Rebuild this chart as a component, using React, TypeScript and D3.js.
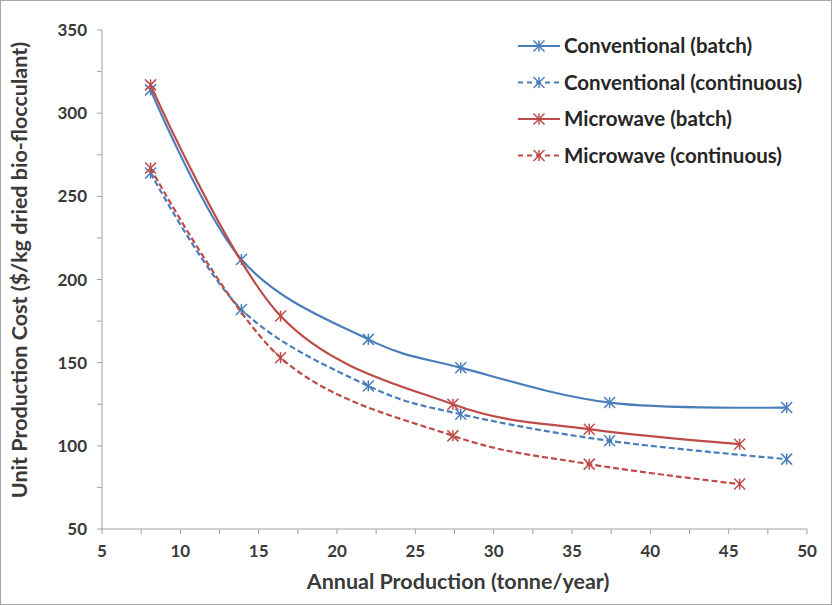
import React from "react";
import * as d3 from "d3";

const xTicks = [5, 10, 15, 20, 25, 30, 35, 40, 45, 50];
const yTicks = [50, 100, 150, 200, 250, 300, 350];

const convX = [8.1, 13.9, 22.0, 27.9, 37.4, 48.7];
const convBatchY = [314, 212, 164, 147, 126, 123];
const convContY = [264, 182, 136, 119, 103, 92];
const microX = [8.1, 16.4, 27.4, 36.1, 45.7];
const microBatchY = [317, 178, 125, 110, 101];
const microContY = [267, 153, 106, 89, 77];

const seriesNames = [
  "Conventional (batch)",
  "Conventional (continuous)",
  "Microwave (batch)",
  "Microwave (continuous)",
];

const BLUE = "#4A7EBB";
const RED = "#BE4B48";
const FONT = "Lato, 'Liberation Sans', sans-serif";

export default function App() {
  const W = 832, H = 605;
  const x = d3.scaleLinear().domain([5, 50]).range([102, 807]);
  const y = d3.scaleLinear().domain([50, 350]).range([529, 30]);
  const line = d3
    .line<[number, number]>()
    .x((d) => x(d[0]))
    .y((d) => y(d[1]))
    .curve(d3.curveCardinal.tension(0));

  const series = [
    { name: seriesNames[0], xs: convX, ys: convBatchY, color: BLUE, dash: "" },
    { name: seriesNames[1], xs: convX, ys: convContY, color: BLUE, dash: "6,3" },
    { name: seriesNames[2], xs: microX, ys: microBatchY, color: RED, dash: "" },
    { name: seriesNames[3], xs: microX, ys: microContY, color: RED, dash: "6,3" },
  ];

  const minorX = d3.range(5, 50.01, 2.5);
  const minorY = d3.range(50, 350.01, 25);

  const star = (cx: number, cy: number, c: string, k: string) => {
    const r = 5.5;
    return (
      <g key={k} stroke={c} strokeWidth={1.5} fill="none">
        <line x1={cx - r} y1={cy - r} x2={cx + r} y2={cy + r} />
        <line x1={cx - r} y1={cy + r} x2={cx + r} y2={cy - r} />
        <line x1={cx} y1={cy - r} x2={cx} y2={cy + r} />
      </g>
    );
  };

  return (
    <svg width={W} height={H} style={{ position: "absolute", left: 0, top: 0 }}>
      <rect x={0} y={0} width={W} height={H} fill="#fff" />
      <rect x={0.5} y={0.5} width={W - 1} height={H - 1} fill="none" stroke="#a6a6a6" />
      {/* axes */}
      <line x1={x(5)} x2={x(50)} y1={y(50)} y2={y(50)} stroke="#a0a0a0" strokeWidth={1} />
      <line x1={x(5)} x2={x(5)} y1={y(50)} y2={y(350)} stroke="#a0a0a0" strokeWidth={1} />
      {minorX.map((v, i) => (
        <line key={"xt" + i} x1={x(v)} x2={x(v)} y1={y(50)} y2={y(50) + 5} stroke="#a0a0a0" />
      ))}
      {minorY.map((v, i) => (
        <line key={"yt" + i} x1={x(5) - 5} x2={x(5)} y1={y(v)} y2={y(v)} stroke="#a0a0a0" />
      ))}
      {xTicks.map((v) => (
        <text key={"xl" + v} x={x(v)} y={557} textAnchor="middle" fontFamily={FONT}
          fontWeight="bold" fontSize={17} fill="#3a3a3a">{v}</text>
      ))}
      {yTicks.map((v) => (
        <text key={"yl" + v} x={87} y={y(v) + 6} textAnchor="end" fontFamily={FONT}
          fontWeight="bold" fontSize={17} fill="#3a3a3a">{v}</text>
      ))}
      <text x={458} y={589} textAnchor="middle" fontFamily={FONT} fontWeight="bold"
        fontSize={21.5} fill="#3a3a3a">Annual Production (tonne/year)</text>
      <text transform="translate(27,270) rotate(-90)" textAnchor="middle" fontFamily={FONT}
        fontWeight="bold" fontSize={21.5} fill="#3a3a3a">
        Unit Production Cost ($/kg dried bio-flocculant)
      </text>
      {/* series */}
      {series.map((s, si) => {
        const pts = s.xs.map((v, i) => [v, s.ys[i]] as [number, number]);
        return (
          <g key={"s" + si}>
            <path d={line(pts) || ""} fill="none" stroke={s.color} strokeWidth={2.2}
              strokeDasharray={s.dash || undefined} />
            {pts.map((p, i) => star(x(p[0]), y(p[1]), s.color, "m" + si + "-" + i))}
          </g>
        );
      })}
      {/* legend */}
      {series.map((s, i) => {
        const ly = 46 + i * 36.5;
        return (
          <g key={"lg" + i}>
            <line x1={518} x2={560} y1={ly} y2={ly} stroke={s.color} strokeWidth={2.2}
              strokeDasharray={s.dash ? "5,4" : undefined} />
            {star(539, ly, s.color, "lm" + i)}
            <text x={564} y={ly + 7} fontFamily={FONT} fontWeight="bold" fontSize={20.5}
              fill="#262626">{s.name}</text>
          </g>
        );
      })}
    </svg>
  );
}
